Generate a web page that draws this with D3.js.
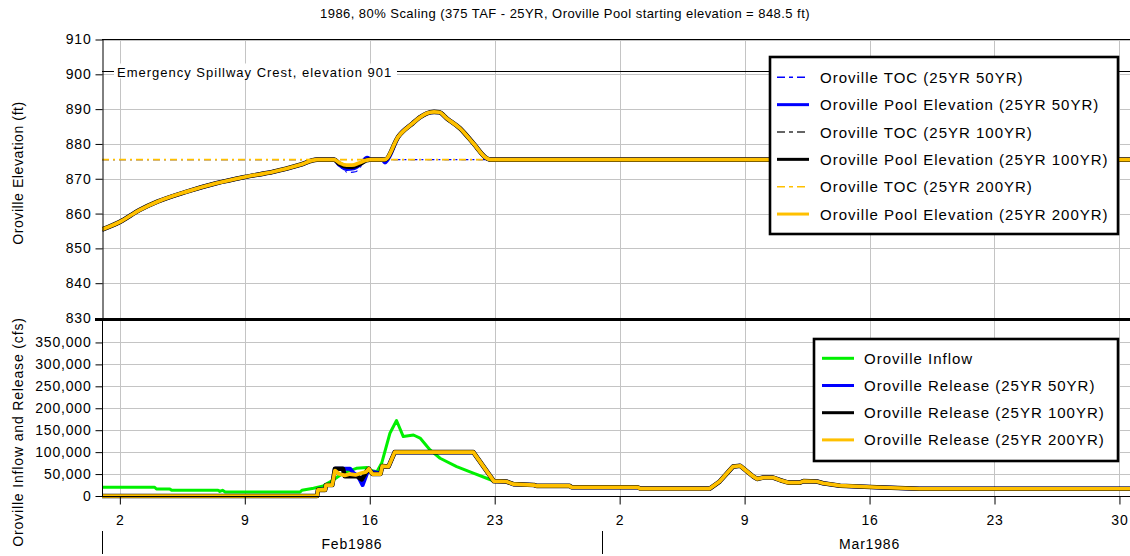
<!DOCTYPE html>
<html>
<head>
<meta charset="utf-8">
<script src="https://cdn.jsdelivr.net/npm/d3@7"></script>
<style>
    body { margin: 0; background: #fff; }
    svg { display: block; font-family: "Liberation Sans", Arial, sans-serif; }
</style>
</head>
<body>
<div class="chartContainer"></div>
<script>
//chart text
var titleText = "1986, 80% Scaling (375 TAF - 25YR, Oroville Pool starting elevation = 848.5 ft)";
var topAxisTitle = "Oroville Elevation (ft)";
var bottomAxisTitle = "Oroville Inflow and Release (cfs)";
var spillwayLabel = "Emergency Spillway Crest, elevation 901";
var spillwayElev = 901;

//x axis ticks and month labels
var xTickDates = ["1986-02-02", "1986-02-09", "1986-02-16", "1986-02-23", "1986-03-02", "1986-03-09", "1986-03-16", "1986-03-23", "1986-03-30"];
var monthStarts = ["1986-02-01", "1986-03-01", "1986-03-31"];
var monthLabels = ["Feb1986", "Mar1986"];

//y axis ticks
var elevTicks = [830, 840, 850, 860, 870, 880, 890, 900, 910];
var flowTicks = [0, 50000, 100000, 150000, 200000, 250000, 300000, 350000];

//series: [day since Feb 1 1986, value]
var tocElev50 = [[0, 875.5], [13.1, 875.5], [13.4, 873.2], [13.8, 871.8], [14.2, 872.0], [14.5, 873.5], [14.8, 875.5], [15.75, 875.5], [15.9, 874.6], [16.1, 875.5], [58, 875.5]];
var poolElev50 = [[0, 855.4], [1, 857.6], [2.1, 861.0], [3.1, 863.4], [4.75, 866.3], [6.4, 868.7], [8.0, 870.5], [9.6, 872.0], [11.1, 874.0], [12.05, 875.5], [13.0, 875.5], [13.3, 874.0], [13.7, 872.8], [14.1, 873.0], [14.5, 874.3], [14.85, 876.0], [15.1, 875.5], [15.7, 875.5], [15.85, 874.7], [16.0, 875.5], [16.6, 882.1], [17.4, 885.9], [17.8, 887.6], [18.2, 888.8], [18.6, 889.2], [18.9, 889.1], [19.3, 887.4], [20.05, 884.5], [20.8, 880.2], [21.55, 875.9], [21.75, 875.5], [58, 875.5]];
var tocElev100 = [[0, 875.5], [58, 875.5]];
var poolElev100 = [[0, 855.4], [1, 857.6], [2.1, 861.0], [3.1, 863.4], [4.75, 866.3], [6.4, 868.7], [8.0, 870.5], [9.6, 872.0], [11.1, 874.0], [12.05, 875.5], [13.0, 875.5], [13.3, 874.3], [13.7, 873.5], [14.0, 873.4], [14.4, 874.1], [14.8, 875.3], [15.0, 875.5], [15.85, 875.5], [16.6, 882.1], [17.4, 885.9], [17.8, 887.6], [18.2, 888.8], [18.6, 889.2], [18.9, 889.1], [19.3, 887.4], [20.05, 884.5], [20.8, 880.2], [21.55, 875.9], [21.75, 875.5], [58, 875.5]];
var tocElev200 = [[0, 875.5], [58, 875.5]];
var poolElev200 = [[0, 855.4], [1, 857.6], [2.1, 861.0], [3.1, 863.4], [4.75, 866.3], [6.4, 868.7], [8.0, 870.5], [9.6, 872.0], [11.1, 874.0], [12.05, 875.5], [13.0, 875.5], [13.3, 874.6], [13.7, 873.9], [14.0, 873.9], [14.4, 874.5], [14.8, 875.3], [15.0, 875.5], [15.85, 875.5], [16.6, 882.1], [17.4, 885.9], [17.8, 887.6], [18.2, 888.8], [18.6, 889.2], [18.9, 889.1], [19.3, 887.4], [20.05, 884.5], [20.8, 880.2], [21.55, 875.9], [21.75, 875.5], [58, 875.5]];

var inflow = [[0, 20000], [2.95, 20000], [3.05, 16000], [3.8, 16000], [3.9, 13000], [6.5, 13000], [6.6, 10500], [6.75, 13000], [6.9, 9000], [11.1, 9000], [11.2, 13000], [11.85, 17500], [12.4, 23000], [12.95, 36500], [13.5, 52000], [14.25, 63000], [14.85, 65000], [15.0, 59000], [15.4, 55500], [15.67, 75000], [16.13, 143000], [16.5, 172000], [16.88, 135500], [17.45, 139000], [17.82, 132000], [18.38, 105000], [18.94, 86000], [19.87, 67000], [20.8, 52000], [21.55, 40500], [21.95, 34000], [22.65, 33000], [23.05, 27000], [24.2, 25000], [24.35, 23000], [26.2, 23000], [26.3, 20000], [30.0, 20000], [30.15, 17000], [34.05, 17000], [34.6, 33000], [35.35, 67000], [35.75, 69000], [36.5, 44000], [36.7, 39000], [37.05, 42000], [37.6, 42000], [38.0, 36000], [38.45, 30500], [39.1, 30500], [39.3, 34000], [40.05, 33000], [40.4, 29000], [41.35, 23500], [43.4, 20000], [45.8, 16500], [58, 16500]];
var release50 = [[0, 0], [12.05, 0], [12.1, 14000], [12.5, 14000], [12.55, 25000], [12.9, 25000], [13.05, 62000], [13.9, 62000], [14.1, 52000], [14.35, 45000], [14.6, 25000], [14.9, 58000], [15.15, 55000], [15.6, 52000], [15.7, 68000], [16.05, 67000], [16.4, 100000], [20.8, 100000], [21.95, 34000], [22.65, 33000], [23.05, 27000], [24.2, 25000], [24.35, 23000], [26.2, 23000], [26.3, 20000], [30.0, 20000], [30.15, 17000], [34.05, 17000], [34.6, 33000], [35.35, 67000], [35.75, 69000], [36.5, 44000], [36.7, 39000], [37.05, 42000], [37.6, 42000], [38.0, 36000], [38.45, 30500], [39.1, 30500], [39.3, 34000], [40.05, 33000], [40.4, 29000], [41.35, 23500], [43.4, 20000], [45.8, 16500], [58, 16500]];
var release100 = [[0, 0], [12.05, 0], [12.1, 14000], [12.5, 14000], [12.55, 25000], [12.9, 25000], [13.05, 62000], [13.5, 62000], [13.6, 45000], [14.3, 45000], [14.55, 38000], [14.8, 55000], [14.95, 62000], [15.15, 50000], [15.6, 50000], [15.7, 68000], [16.05, 67000], [16.4, 100000], [20.8, 100000], [21.95, 34000], [22.65, 33000], [23.05, 27000], [24.2, 25000], [24.35, 23000], [26.2, 23000], [26.3, 20000], [30.0, 20000], [30.15, 17000], [34.05, 17000], [34.6, 33000], [35.35, 67000], [35.75, 69000], [36.5, 44000], [36.7, 39000], [37.05, 42000], [37.6, 42000], [38.0, 36000], [38.45, 30500], [39.1, 30500], [39.3, 34000], [40.05, 33000], [40.4, 29000], [41.35, 23500], [43.4, 20000], [45.8, 16500], [58, 16500]];
var release200 = [[0, 0], [12.05, 0], [12.1, 14000], [12.5, 14000], [12.55, 25000], [12.9, 25000], [13.05, 58000], [13.3, 50000], [13.6, 47000], [13.9, 50000], [14.2, 48000], [14.5, 52000], [14.8, 55000], [14.95, 62000], [15.15, 50000], [15.6, 50000], [15.7, 68000], [16.05, 67000], [16.4, 100000], [20.8, 100000], [21.95, 34000], [22.65, 33000], [23.05, 27000], [24.2, 25000], [24.35, 23000], [26.2, 23000], [26.3, 20000], [30.0, 20000], [30.15, 17000], [34.05, 17000], [34.6, 33000], [35.35, 67000], [35.75, 69000], [36.5, 44000], [36.7, 39000], [37.05, 42000], [37.6, 42000], [38.0, 36000], [38.45, 30500], [39.1, 30500], [39.3, 34000], [40.05, 33000], [40.4, 29000], [41.35, 23500], [43.4, 20000], [45.8, 16500], [58, 16500]];

var topLegendNames = ["Oroville TOC (25YR 50YR)", "Oroville Pool Elevation (25YR 50YR)", "Oroville TOC (25YR 100YR)", "Oroville Pool Elevation (25YR 100YR)", "Oroville TOC (25YR 200YR)", "Oroville Pool Elevation (25YR 200YR)"];
var bottomLegendNames = ["Oroville Inflow", "Oroville Release (25YR 50YR)", "Oroville Release (25YR 100YR)", "Oroville Release (25YR 200YR)"];

window.onload = drawChart();

function drawChart(){

    var width = 1130,
        height = 556;

    var blue = "#0000ff", black = "#000000", gold = "#ffc000", green = "#00f000", grid = "#c4c4c4";
    var tocDash = "7,4,2,4";

    var svg = d3.select("div.chartContainer")
        .append("svg")
        .attr("width", width)
        .attr("height", height);

    var parseDate = d3.utcParse("%Y-%m-%d");
    var dayZero = parseDate("1986-02-01");
    function dayToDate(d){
        return new Date(dayZero.getTime() + d * 86400000);
    };

    //scales
    var x = d3.scaleUtc()
        .domain([parseDate(monthStarts[0]), parseDate(monthStarts[2])])
        .range([102, 1137.3]);
    var yTop = d3.scaleLinear().domain([830, 910]).range([318, 39.5]);
    var yBot = d3.scaleLinear().domain([0, 400000]).range([496, 320.5]);

    var tickDates = xTickDates.map(parseDate);

    //clip paths
    var defs = svg.append("defs");
    defs.append("clipPath").attr("id", "clipTop")
        .append("rect").attr("x", 102).attr("y", 39.5).attr("width", 1030).attr("height", 279);
    defs.append("clipPath").attr("id", "clipBot")
        .append("rect").attr("x", 102).attr("y", 321).attr("width", 1030).attr("height", 180);

    //gridlines
    var gridG = svg.append("g").attr("stroke", grid).attr("stroke-width", 1);
    gridG.selectAll(".vgridTop")
        .data(tickDates).enter().append("line")
        .attr("x1", function(d){ return Math.round(x(d)) + 0.5; })
        .attr("x2", function(d){ return Math.round(x(d)) + 0.5; })
        .attr("y1", yTop(910)).attr("y2", yTop(830));
    gridG.selectAll(".vgridBot")
        .data(tickDates).enter().append("line")
        .attr("x1", function(d){ return Math.round(x(d)) + 0.5; })
        .attr("x2", function(d){ return Math.round(x(d)) + 0.5; })
        .attr("y1", yBot(400000)).attr("y2", yBot(0));
    gridG.selectAll(".hgridTop")
        .data(elevTicks).enter().append("line")
        .attr("x1", 102).attr("x2", width)
        .attr("y1", function(d){ return Math.round(yTop(d)) + 0.5; })
        .attr("y2", function(d){ return Math.round(yTop(d)) + 0.5; });
    gridG.selectAll(".hgridBot")
        .data(flowTicks).enter().append("line")
        .attr("x1", 102).attr("x2", width)
        .attr("y1", function(d){ return Math.round(yBot(d)) + 0.5; })
        .attr("y2", function(d){ return Math.round(yBot(d)) + 0.5; });

    //line generators
    var topLine = d3.line()
        .x(function(d){ return x(dayToDate(d[0])); })
        .y(function(d){ return yTop(d[1]); })
        .curve(d3.curveMonotoneX);
    var botLine = d3.line()
        .x(function(d){ return x(dayToDate(d[0])); })
        .y(function(d){ return yBot(d[1]); });

    //top panel series, drawn 50YR then 100YR then 200YR
    var topG = svg.append("g").attr("clip-path", "url(#clipTop)").attr("fill", "none");
    var topSeries = [
        {data: tocElev50, color: blue, w: 1.1, dash: tocDash},
        {data: poolElev50, color: blue, w: 4, dash: null},
        {data: tocElev100, color: black, w: 1, dash: tocDash},
        {data: poolElev100, color: black, w: 4.6, dash: null},
        {data: tocElev200, color: gold, w: 1.6, dash: tocDash},
        {data: poolElev200, color: gold, w: 3.7, dash: null}
    ];
    topSeries.forEach(function(s){
        topG.append("path")
            .datum(s.data)
            .attr("d", topLine)
            .attr("stroke", s.color)
            .attr("stroke-width", s.w)
            .attr("stroke-dasharray", s.dash)
            .attr("stroke-linejoin", "round");
    });

    //bottom panel series
    var botG = svg.append("g").attr("clip-path", "url(#clipBot)").attr("fill", "none");
    var botSeries = [
        {data: inflow, color: green, w: 3},
        {data: release50, color: blue, w: 4},
        {data: release100, color: black, w: 4.6},
        {data: release200, color: gold, w: 3.7}
    ];
    botSeries.forEach(function(s){
        botG.append("path")
            .datum(s.data)
            .attr("d", botLine)
            .attr("stroke", s.color)
            .attr("stroke-width", s.w)
            .attr("stroke-linejoin", "round");
    });

    //axes
    var axisFont = "'Liberation Sans', Arial, sans-serif";
    var yTopAxis = svg.append("g")
        .attr("transform", "translate(102.5,0)")
        .call(d3.axisLeft(yTop).tickValues(elevTicks).tickSize(7).tickSizeOuter(0).tickPadding(4));
    var yBotAxis = svg.append("g")
        .attr("transform", "translate(102.5,0)")
        .call(d3.axisLeft(yBot).tickValues(flowTicks).tickFormat(d3.format(",")).tickSize(7).tickSizeOuter(0).tickPadding(4));
    var xAxis = svg.append("g")
        .attr("transform", "translate(0,496.5)")
        .call(d3.axisBottom(x).tickValues(tickDates).tickFormat(d3.utcFormat("%-d")).tickSize(8).tickSizeOuter(0).tickPadding(11));
    [yTopAxis, yBotAxis, xAxis].forEach(function(a){
        a.attr("font-family", axisFont).attr("font-size", 14)
            .style("letter-spacing", "0.8px");
        a.selectAll("text").attr("fill", "#000");
    });
    yBotAxis.select(".domain").attr("d", "M-7,320.5H0V496.5");
    xAxis.select(".domain").attr("d", "M102,0H" + width);

    //top border line and separator between panels
    svg.append("line")
        .attr("x1", 102).attr("x2", width).attr("y1", 39.5).attr("y2", 39.5)
        .attr("stroke", "#000");
    svg.append("line")
        .attr("x1", 95).attr("x2", width).attr("y1", 319.5).attr("y2", 319.5)
        .attr("stroke", "#000").attr("stroke-width", 3);

    //month labels and separators
    var monthDates = monthStarts.map(parseDate);
    svg.selectAll(".monthSep")
        .data(monthDates.slice(0, 2)).enter().append("line")
        .attr("x1", function(d){ return Math.round(x(d)) + 0.5; })
        .attr("x2", function(d){ return Math.round(x(d)) + 0.5; })
        .attr("y1", 531).attr("y2", 554)
        .attr("stroke", "#000");
    svg.selectAll(".monthLabel")
        .data(monthLabels).enter().append("text")
        .attr("x", function(d, i){ return (x(monthDates[i]) + x(monthDates[i + 1])) / 2; })
        .attr("y", 549)
        .attr("text-anchor", "middle")
        .attr("font-size", 14)
        .style("letter-spacing", "0.8px")
        .text(function(d){ return d; });

    //spillway crest line with label
    var ySpill = Math.round(yTop(spillwayElev)) + 0.5;
    svg.append("line")
        .attr("x1", 102).attr("x2", width).attr("y1", ySpill).attr("y2", ySpill)
        .attr("stroke", "#000");
    svg.append("rect")
        .attr("x", 114).attr("y", ySpill - 8).attr("width", 283).attr("height", 15)
        .attr("fill", "#fff");
    svg.append("text")
        .attr("x", 117).attr("y", ySpill + 5)
        .attr("font-size", 13)
        .style("letter-spacing", "1px")
        .text(spillwayLabel);

    //title and axis titles
    svg.append("text")
        .attr("x", 565).attr("y", 18)
        .attr("text-anchor", "middle")
        .attr("font-size", 13)
        .style("letter-spacing", "0.45px")
        .text(titleText);
    svg.append("text")
        .attr("transform", "translate(23,173) rotate(-90)")
        .attr("text-anchor", "middle")
        .attr("font-size", 14)
        .style("letter-spacing", "0.6px")
        .text(topAxisTitle);
    svg.append("text")
        .attr("transform", "translate(23,432) rotate(-90)")
        .attr("text-anchor", "middle")
        .attr("font-size", 14)
        .style("letter-spacing", "0.85px")
        .text(bottomAxisTitle);

    //legends
    var topLegendStyles = [
        {color: blue, dash: "8,4,4,4", w: 1.5},
        {color: blue, dash: null, w: 3},
        {color: "#333", dash: "8,4,4,4", w: 1.5},
        {color: black, dash: null, w: 3},
        {color: gold, dash: "8,4,4,4", w: 1.5},
        {color: gold, dash: null, w: 3}
    ];
    var botLegendStyles = [
        {color: green, dash: null, w: 3},
        {color: blue, dash: null, w: 3},
        {color: black, dash: null, w: 3},
        {color: gold, dash: null, w: 3}
    ];
    makeLegend(svg, topLegendNames, topLegendStyles, 770, 57, 348, 177, 77.3, 27.35, 777, 820);
    makeLegend(svg, bottomLegendNames, botLegendStyles, 814, 339, 304, 122, 358.3, 27.2, 822, 864);
};

function makeLegend(svg, names, styles, bx, by, bw, bh, firstY, step, sampleX, textX){
    var g = svg.append("g");
    g.append("rect")
        .attr("x", bx).attr("y", by).attr("width", bw).attr("height", bh)
        .attr("fill", "#fff").attr("stroke", "#000").attr("stroke-width", 2.6);
    var rows = g.selectAll(".legendRow")
        .data(names).enter().append("g")
        .attr("transform", function(d, i){ return "translate(0," + (firstY + i * step) + ")"; });
    rows.append("line")
        .attr("x1", sampleX).attr("x2", sampleX + 32)
        .attr("y1", 0).attr("y2", 0)
        .attr("stroke", function(d, i){ return styles[i].color; })
        .attr("stroke-width", function(d, i){ return styles[i].w; })
        .attr("stroke-dasharray", function(d, i){ return styles[i].dash; });
    rows.append("text")
        .attr("x", textX).attr("y", 5.5)
        .attr("font-size", 15)
        .style("letter-spacing", "1px")
        .text(function(d){ return d; });
};
</script>
</body>
</html>
